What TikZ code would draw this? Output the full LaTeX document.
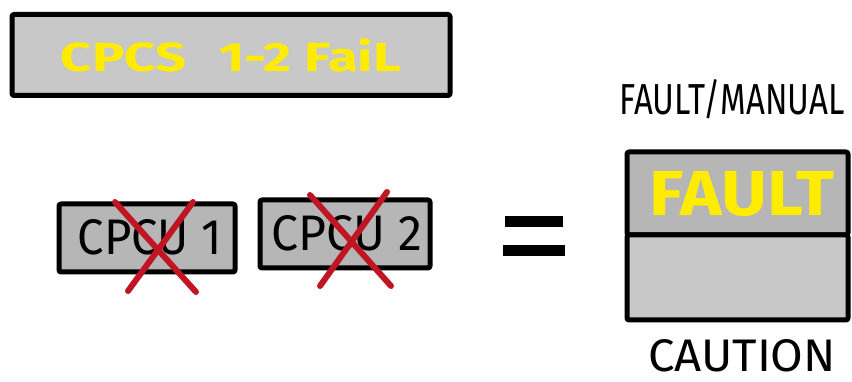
\documentclass[tikz,border=0pt]{standalone}
\usepackage{fontspec}
\setmainfont{Fira Sans}
\usetikzlibrary{positioning}

\definecolor{panelgray}{RGB}{200,200,200}
\definecolor{boxgray}{RGB}{182,182,182}
\definecolor{lampyellow}{RGB}{255,236,0}
\definecolor{crossred}{RGB}{192,22,36}

% squeeze a text into a given width and cap height
\newcommand{\fitbox}[3]{\resizebox{#1}{#2}{#3}}

\begin{document}
\begin{tikzpicture}[x=1pt,y=-1pt,line join=round,line cap=round,
    panel/.style={draw=black,line width=5pt,fill=panelgray,rounded corners=2pt,inner sep=0pt},
    lamp/.style={text=lampyellow,font=\bfseries,inner sep=0pt,anchor=base},
    ink/.style={text=black,font=\mdseries,inner sep=0pt,anchor=base},
    cross/.style={draw=crossred,line width=6pt},
    bar/.style={draw=black,line width=11pt,line cap=butt}]
\useasboundingbox (0,0) rectangle (852,382);

% caution message bar
\node[panel,minimum width=438pt,minimum height=81pt] (banner) at (231,55) {};
\node[lamp] (bannertext) at (231,72) {\fitbox{340pt}{33pt}{CPCS\hspace{0.6em}1-2 FaiL}};

% the two failed computers
\node[panel,fill=boxgray,minimum width=176pt,minimum height=68pt] (cpcu1) at (147,238) {};
\node[ink] (cpcu1text) at (150,255) {\fitbox{144pt}{35pt}{CPCU 1}};
\node[panel,fill=boxgray,minimum width=170pt,minimum height=68pt] (cpcu2) at (345,234) {};
\node[ink] (cpcu2text) at (347,251) {\fitbox{150pt}{35pt}{CPCU 2}};

\coordinate (x1a) at (115,202);
\coordinate (x1b) at (196,292);
\coordinate (x1c) at (193,202);
\coordinate (x1d) at (128,291);
\draw[cross] (x1a) -- (x1b);
\draw[cross] (x1c) -- (x1d);

\coordinate (x2a) at (310,195);
\coordinate (x2b) at (391,286);
\coordinate (x2c) at (387,192);
\coordinate (x2d) at (320,286);
\draw[cross] (x2a) -- (x2b);
\draw[cross] (x2c) -- (x2d);

% equals sign
\coordinate (eqa) at (505,222);
\coordinate (eqb) at (563,222);
\coordinate (eqc) at (503,251);
\coordinate (eqd) at (565,251);
\draw[bar] (eqa) -- (eqb);
\draw[bar] (eqc) -- (eqd);

% fault/manual push button
\node[panel,fill=boxgray,minimum width=221pt,minimum height=83pt] (fault) at (737.5,193.5) {};
\node[panel,minimum width=221pt,minimum height=85pt] (manual) at (737.5,277.5) {};
\node[lamp] (faulttext) at (742,216) {\fitbox{185pt}{44pt}{FAULT}};
\node[ink] (faultlabel) at (732,115) {\fitbox{225pt}{35pt}{FAULT/MANUAL}};
\node[ink] (cautionlabel) at (742,371) {\fitbox{188pt}{32pt}{CAUTION}};
\end{tikzpicture}
\end{document}
